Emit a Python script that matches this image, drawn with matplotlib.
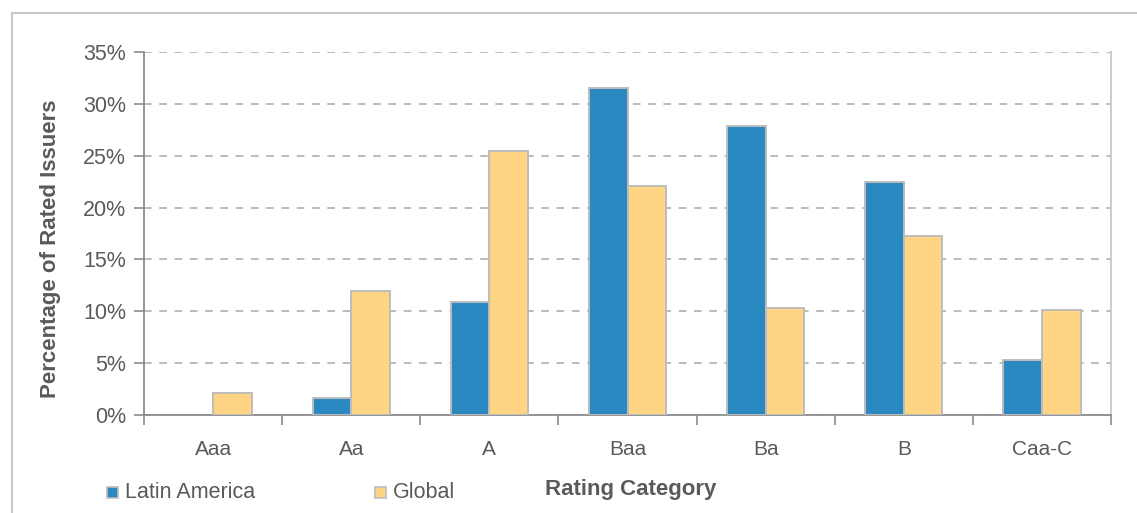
import matplotlib
matplotlib.use("Agg")
import matplotlib.pyplot as plt
from matplotlib.lines import Line2D
from matplotlib.patches import Rectangle
import numpy as np

plt.rcParams['font.family'] = ['Liberation Sans', 'DejaVu Sans']

categories = ["Aaa", "Aa", "A", "Baa", "Ba", "B", "Caa-C"]
latin_america = [0.0, 1.6, 10.9, 31.5, 27.9, 22.5, 5.3]
global_share = [2.1, 12.0, 25.5, 22.1, 10.3, 17.3, 10.1]
yticks = [0, 5, 10, 15, 20, 25, 30, 35]

W, H = 1137, 513
fig = plt.figure(figsize=(W / 100, H / 100), dpi=100)
fig.patch.set_facecolor("white")

# outer chart frame (open on the right and bottom)
frame_col = "#C8C8C8"
fig.add_artist(Line2D([12 / W, 12 / W], [0, 1 - 13 / H], transform=fig.transFigure,
                      color=frame_col, lw=1.5))
fig.add_artist(Line2D([12 / W, 1], [1 - 13 / H, 1 - 13 / H], transform=fig.transFigure,
                      color=frame_col, lw=1.5))

left, right, top, bottom = 144, 1111, 52, 415
ax = fig.add_axes([left / W, 1 - bottom / H, (right - left) / W, (bottom - top) / H])

x = np.arange(len(categories))
bw = 0.28
blue = "#2A89C0"
yellow = "#FFD584"
edge = "#BDBDBD"


def edges(vals):
    return [edge if v > 0 else "none" for v in vals]


ax.bar(x - bw / 2, latin_america, bw, color=blue, edgecolor=edges(latin_america),
       linewidth=1.4, label="Latin America", zorder=3)
ax.bar(x + bw / 2, global_share, bw, color=yellow, edgecolor=edges(global_share),
       linewidth=1.4, label="Global", zorder=3)

ax.set_xlim(-0.5, len(categories) - 0.5)
ax.set_ylim(0, 35)
ax.set_yticks(yticks)
ax.set_yticklabels([f"{v}%" for v in yticks])
ax.yaxis.grid(True, linestyle=(0, (5, 5)), color="#A8A8A8", linewidth=1.1, zorder=0)
ax.set_axisbelow(True)

text_col = "#5A5A5A"
axis_col = "#8C8C8C"
ax.set_xticks(x)
ax.set_xticklabels(categories)
ax.set_xticks(np.arange(-0.5, len(categories)), minor=True)
ax.tick_params(axis="x", which="major", length=0, pad=18, labelsize=15, labelcolor=text_col)
ax.tick_params(axis="x", which="minor", length=7, width=1.2, color=axis_col, direction="out")
ax.tick_params(axis="y", length=7, width=1.2, color=axis_col, direction="out",
               labelsize=15.5, labelcolor=text_col, pad=6)

ax.spines["top"].set_visible(False)
ax.spines["left"].set_color(axis_col)
ax.spines["left"].set_linewidth(1.3)
ax.spines["bottom"].set_color(axis_col)
ax.spines["bottom"].set_linewidth(1.3)
ax.spines["right"].set_color("#C8C8C8")
ax.spines["right"].set_linewidth(1.3)

ax.set_ylabel("Percentage of Rated Issuers", fontsize=16, fontweight="bold",
              color=text_col)
ax.yaxis.set_label_coords((61 - left) / (right - left), (bottom - 249) / (bottom - top))

fig.text(631 / W, 1 - 490 / H, "Rating Category", fontsize=16, fontweight="bold",
         color=text_col, ha="center", va="center")


# legend
def legend_item(px, label, color):
    fig.add_artist(Rectangle((px / W, 1 - 498 / H), 11 / W, 11 / H,
                             transform=fig.transFigure, facecolor=color,
                             edgecolor=edge, linewidth=1.2))
    fig.text((px + 18) / W, 1 - 492 / H, label, fontsize=15.5, color=text_col,
             ha="left", va="center")


legend_item(107, "Latin America", blue)
legend_item(375, "Global", yellow)

fig.savefig("out.png", dpi=100, facecolor="white")
